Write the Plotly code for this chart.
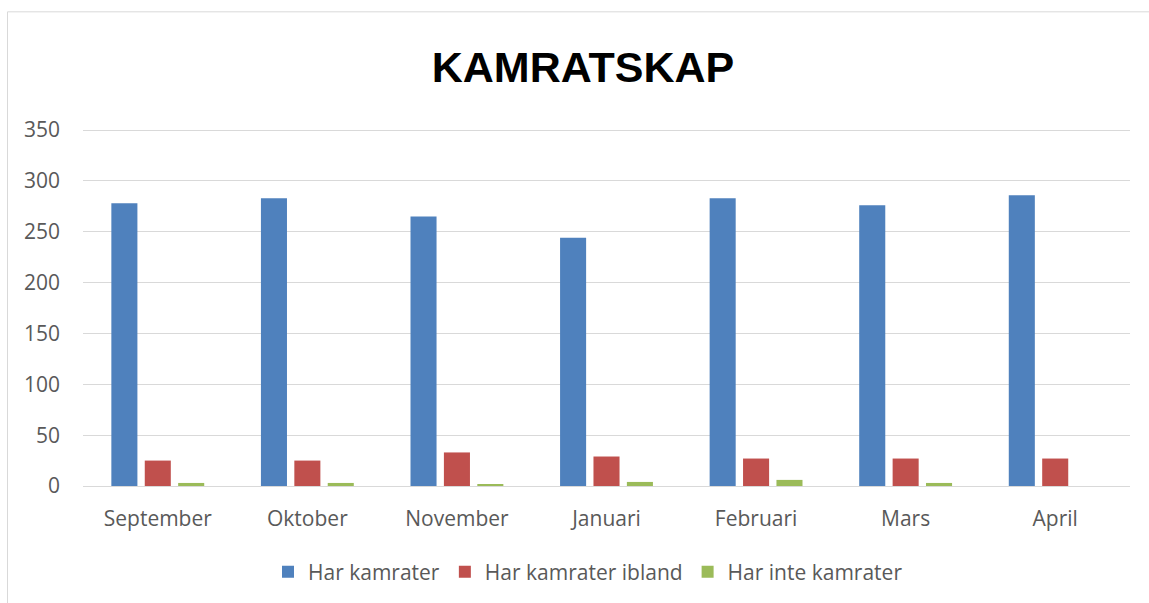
import plotly.graph_objects as go

categories = ["September", "Oktober", "November", "Januari", "Februari", "Mars", "April"]
har_kamrater = [278, 283, 265, 244, 283, 276, 286]
har_kamrater_ibland = [25, 25, 33, 29, 27, 27, 27]
har_inte_kamrater = [3, 3, 2, 4, 6, 3, 0]
y_ticks = [0, 50, 100, 150, 200, 250, 300, 350]

series = [
    ("Har kamrater", har_kamrater, "#4F81BD"),
    ("Har kamrater ibland", har_kamrater_ibland, "#C0504D"),
    ("Har inte kamrater", har_inte_kamrater, "#9BBB59"),
]

fig = go.Figure()
for name, vals, col in series:
    fig.add_trace(go.Bar(x=categories, y=vals, name=name,
                         marker=dict(color=col, line=dict(width=0))))

W, H = 1149, 603
L, R, T, B = 83, 19, 128, 116
pw, ph = W - L - R, H - T - B

def px(x):
    return (x - L) / pw

def py(y):
    return (H - B - y) / ph

fig.update_layout(
    width=W, height=H,
    margin=dict(l=L, r=R, t=T, b=B),
    paper_bgcolor="white", plot_bgcolor="white",
    barmode="group", bargap=0.33, bargroupgap=0.22,
    font=dict(family="Open Sans, Liberation Sans, sans-serif", color="#595959", size=21),
    title=dict(text="<b>KAMRATSKAP</b>", x=px(583), xanchor="center", xref="paper",
               y=1 - 67 / H, yanchor="middle",
               font=dict(size=43, color="black", family="Liberation Sans, Arial, sans-serif")),
    xaxis=dict(showgrid=False, showline=True, linecolor="#d9d9d9", linewidth=1,
               ticks="", tickfont=dict(size=21, color="#595959"), ticklabelstandoff=14),
    yaxis=dict(range=[0, 352], tickvals=y_ticks, showgrid=True, gridcolor="#d9d9d9",
               gridwidth=1, zeroline=False, showline=False, ticks="",
               tickfont=dict(size=21, color="#595959"), ticklabelstandoff=22),
    legend=dict(orientation="h", x=px(588), xanchor="center", y=py(572), yanchor="middle",
                font=dict(size=21, color="#595959"), itemwidth=30, traceorder="normal"),
    showlegend=True,
    shapes=[dict(type="rect", xref="paper", yref="paper",
                 x0=px(7.5), x1=px(1160), y0=py(640), y1=py(11.5),
                 line=dict(color="#d9d9d9", width=1), fillcolor="rgba(0,0,0,0)", layer="below")],
)

fig.write_html("out.html", config={"displayModeBar": False},
               post_script="document.body.style.margin='0';")
